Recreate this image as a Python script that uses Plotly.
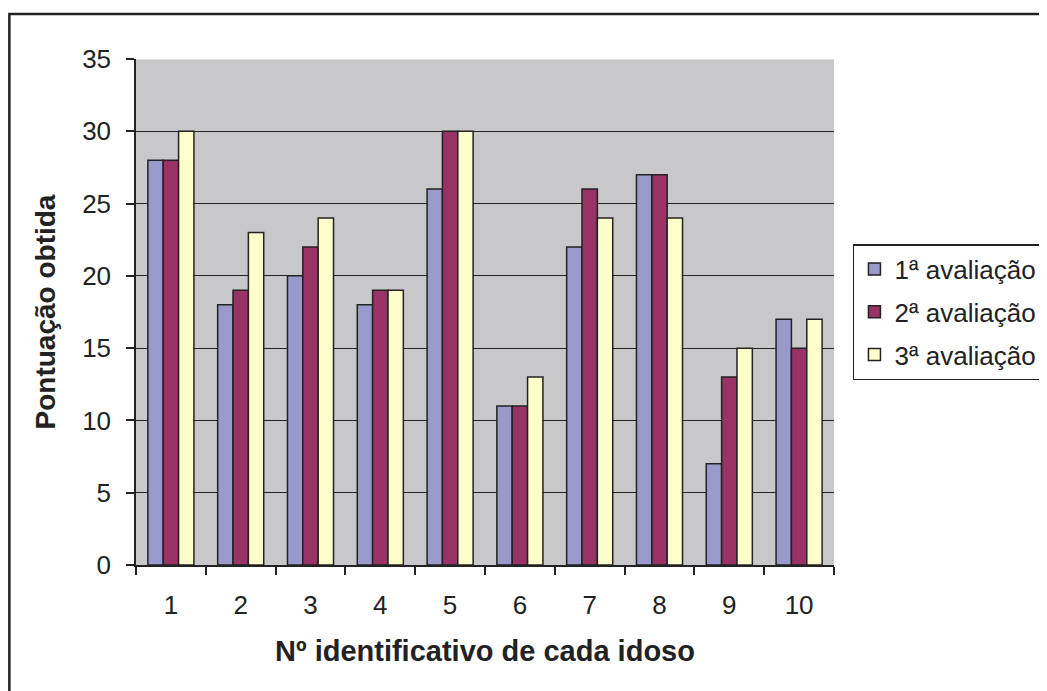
import plotly.graph_objects as go

categories = ["1", "2", "3", "4", "5", "6", "7", "8", "9", "10"]
aval1 = [28, 18, 20, 18, 26, 11, 22, 27, 7, 17]
aval2 = [28, 19, 22, 19, 30, 11, 26, 27, 13, 15]
aval3 = [30, 23, 24, 19, 30, 13, 24, 24, 15, 17]
series_names = ["1ª avaliação", "2ª avaliação", "3ª avaliação"]
colors = ["#9999CC", "#993366", "#FFFFCC"]
y_ticks = [0, 5, 10, 15, 20, 25, 30, 35]

W, H = 1047, 691
OFF = 8  # page body margin
# plot area in screen pixels
SL, SR, ST, SB = 136, 836, 59, 565

def px_x(p):
    return (p - SL) / (SR - SL)

def px_y(p):
    return (SB - p) / (SB - ST)

FONT = "Liberation Sans, Arial, sans-serif"
INK = "#222222"

fig = go.Figure()
for name, vals, col in zip(series_names, [aval1, aval2, aval3], colors):
    fig.add_trace(go.Bar(
        x=categories, y=vals, name=name, legendgroup=name,
        marker=dict(color=col, line=dict(color=INK, width=1.5)),
    ))

fig.update_layout(
    width=W, height=H,
    margin=dict(l=SL - OFF, r=W - (SR - OFF), t=ST - OFF, b=H - (SB - OFF)),
    paper_bgcolor="white",
    plot_bgcolor="#C8C8CA",
    barmode="group",
    bargap=0.34,
    bargroupgap=0,
    font=dict(family=FONT, color=INK, size=26),
    showlegend=True,
    legend=dict(
        x=px_x(855), y=px_y(244), xanchor="left", yanchor="top",
        bordercolor=INK, borderwidth=1.5, bgcolor="white",
        font=dict(size=26, color=INK),
        traceorder="grouped", tracegroupgap=6,
    ),
    xaxis=dict(
        type="category",
        tickson="boundaries",
        ticks="outside", ticklen=8, tickcolor=INK, tickwidth=1.5,
        showline=True, linecolor=INK, linewidth=1.5,
        showgrid=False,
        tickfont=dict(size=26),
        ticklabelstandoff=16,
        title=dict(text="<b>Nº identificativo de cada idoso</b>", font=dict(size=29), standoff=22),
    ),
    yaxis=dict(
        range=[0, 35],
        tickvals=y_ticks,
        ticks="outside", ticklen=8, tickcolor=INK, tickwidth=1.5,
        showline=True, linecolor=INK, linewidth=1.5,
        showgrid=True, gridcolor=INK, gridwidth=1,
        zeroline=False,
        tickfont=dict(size=26),
        ticklabelstandoff=10,
        title=dict(text="<b>Pontuação obtida</b>", font=dict(size=28), standoff=18),
    ),
    shapes=[
        dict(type="rect", xref="paper", yref="paper",
             x0=px_x(9), x1=px_x(W + 40), y0=px_y(H + 40), y1=px_y(14),
             line=dict(color=INK, width=2.5), fillcolor="rgba(0,0,0,0)", layer="below"),
        dict(type="line", xref="paper", yref="y", x0=0, x1=1, y0=35, y1=35,
             line=dict(color="#E4E4E4", width=1.5), layer="above"),
    ],
)

fig.write_html("out.html")
